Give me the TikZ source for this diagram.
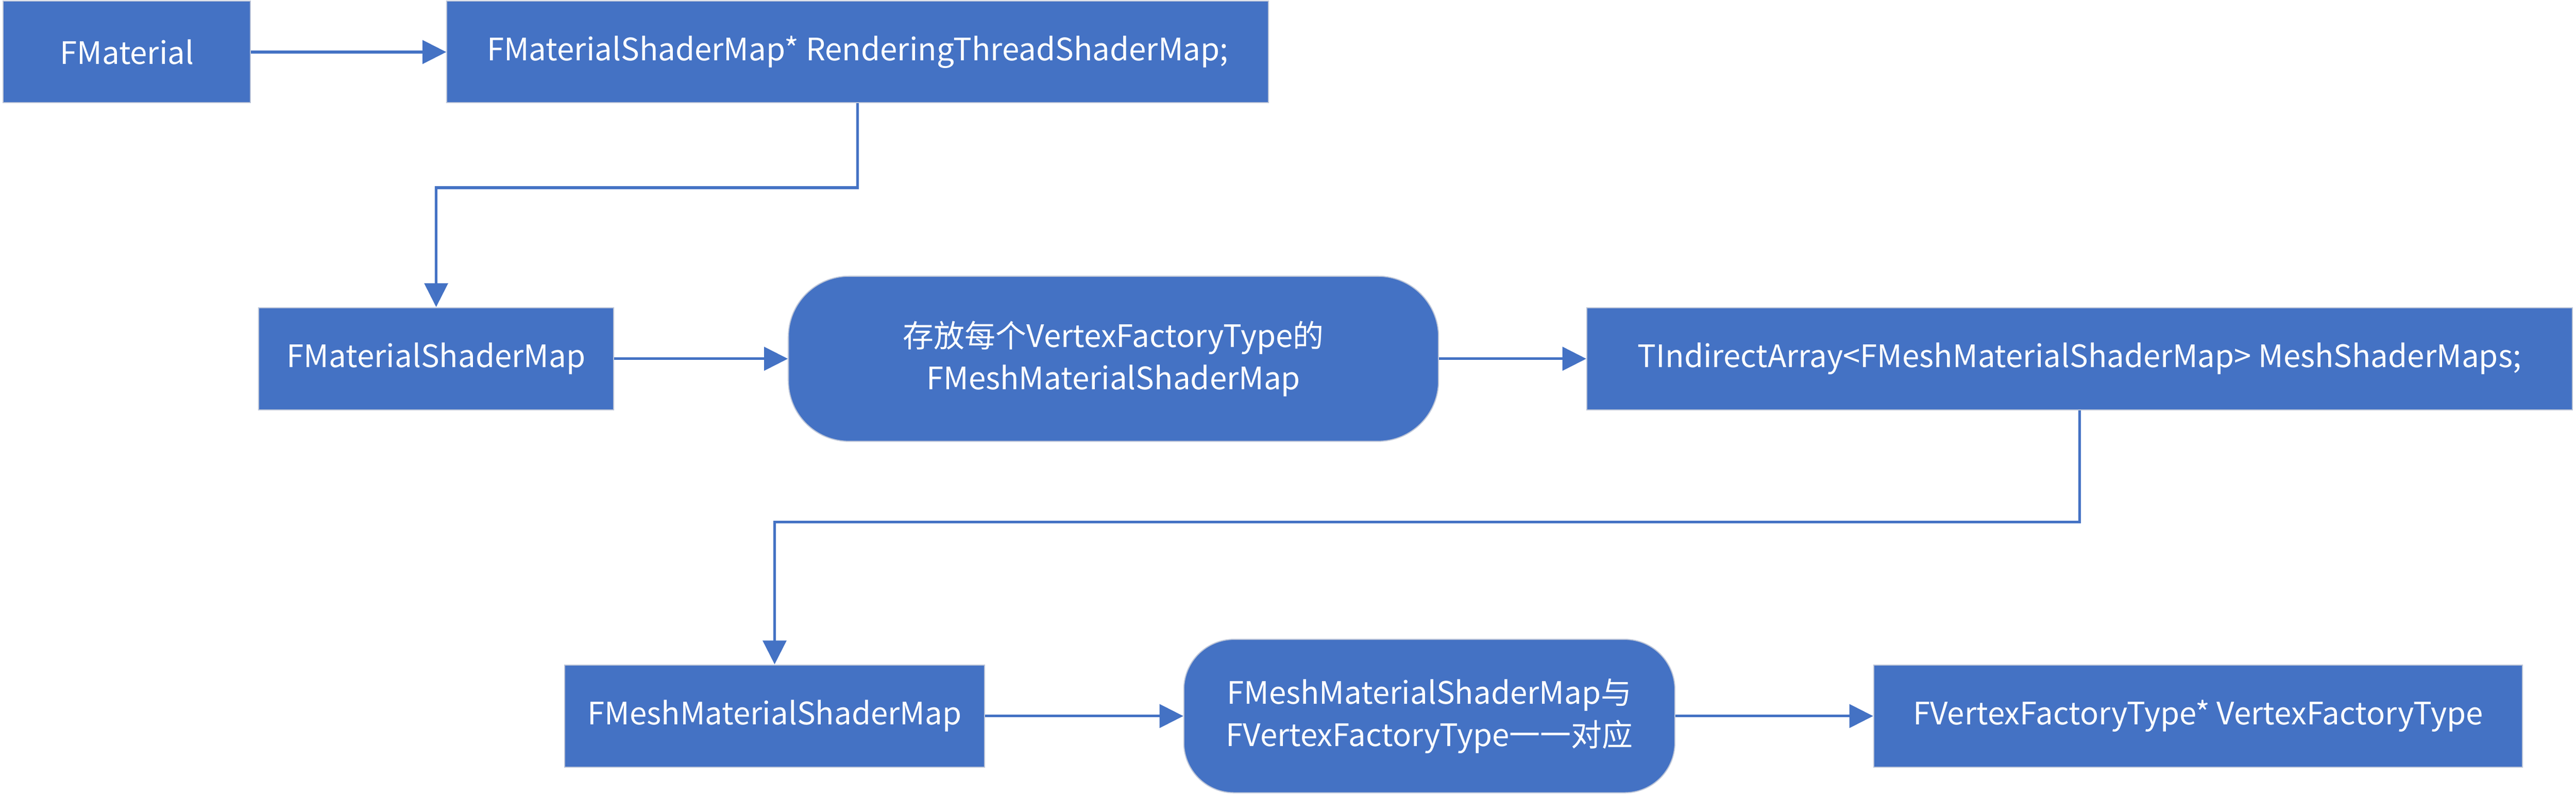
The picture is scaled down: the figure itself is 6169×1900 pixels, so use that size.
\documentclass[tikz,border=0pt]{standalone}
\usepackage{fontspec}
\setmainfont{Noto Sans CJK SC}
\usetikzlibrary{arrows.meta}
\definecolor{boxblue}{HTML}{4472C4}
\definecolor{boxedge}{HTML}{BCC5D8}
\begin{document}
\begin{tikzpicture}[x=1pt,y=-1pt,
  blk/.style={fill=boxblue,draw=boxedge,line width=2.5pt,inner sep=0pt,
    text=white,align=center,font=\fontsize{74}{101}\selectfont},
  conn/.style={draw=boxblue,line width=6.5pt,
    -{Triangle[length=57pt,width=56pt]}},
  plain/.style={draw=boxblue,line width=6.5pt}]
\useasboundingbox (0,0) rectangle (6169,1900);
\node[blk,minimum width=592pt,minimum height=243pt] (fm) at (304,124.5) {FMaterial};
\node[blk,minimum width=1968pt,minimum height=243pt] (rts) at (2054,124.5) {FMaterialShaderMap* RenderingThreadShaderMap;};
\node[blk,minimum width=851pt,minimum height=245pt] (fmsm) at (1044.5,858.5) {FMaterialShaderMap};
\node[blk,rounded corners=145pt,minimum width=1557pt,minimum height=395pt] (r1) at (2666.5,858.5) {存放每个VertexFactoryType的\\FMeshMaterialShaderMap};
\node[blk,minimum width=2360pt,minimum height=245pt] (tia) at (4980,858.5) {TIndirectArray<FMeshMaterialShaderMap> MeshShaderMaps;};
\node[blk,minimum width=1006pt,minimum height=245pt] (fmmsm) at (1855,1713.5) {FMeshMaterialShaderMap};
\node[blk,rounded corners=120pt,minimum width=1176pt,minimum height=367pt] (r2) at (3423,1713.5) {FMeshMaterialShaderMap与\\FVertexFactoryType一一对应};
\node[blk,minimum width=1554pt,minimum height=245pt] (fvft) at (5264,1713.5) {FVertexFactoryType* VertexFactoryType};
\coordinate (k1) at (1044.5,449);
\coordinate (k2) at (1855,1249);
\draw[conn] (fm.east) -- (rts.west);
\draw[conn] (rts.south) |- (k1) -- (fmsm.north);
\draw[conn] (fmsm.east) -- (r1.west);
\draw[conn] (r1.east) -- (tia.west);
\draw[conn] (tia.south) |- (k2) -- (fmmsm.north);
\draw[conn] (fmmsm.east) -- (r2.west);
\draw[conn] (r2.east) -- (fvft.west);
\end{tikzpicture}
\end{document}
